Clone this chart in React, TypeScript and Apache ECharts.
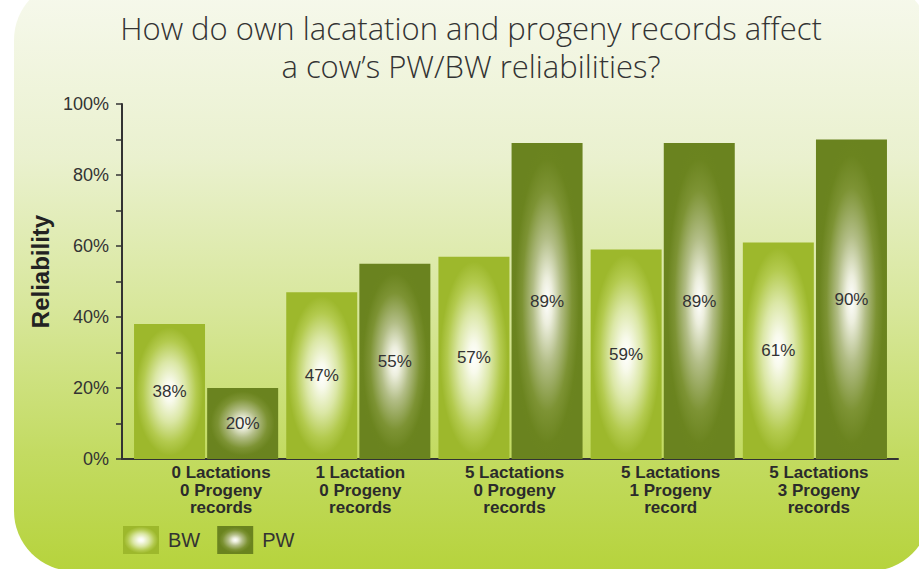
import React, { useEffect, useRef } from "react";
import * as echarts from "echarts";

const categories = [
  "0 Lactations\n0 Progeny\nrecords",
  "1 Lactation\n0 Progeny\nrecords",
  "5 Lactations\n0 Progeny\nrecords",
  "5 Lactations\n1 Progeny\nrecord",
  "5 Lactations\n3 Progeny\nrecords",
];
const bwValues = [38, 47, 57, 59, 61];
const pwValues = [20, 55, 89, 89, 90];
const seriesNames = ["BW", "PW"];
const titleText = "How do own lacatation and progeny records affect\na cow\u2019s PW/BW reliabilities?";
const yAxisName = "Reliability";
// horizontal nudge (px) of each category label
const labelNudge = [15, 2, 4, 8, 4];

const bwFill = {
  type: "radial", x: 0.5, y: 0.5, r: 0.5,
  colorStops: [
    { offset: 0, color: "#ffffff" },
    { offset: 0.15, color: "#f8faec" },
    { offset: 0.45, color: "#dbe7a6" },
    { offset: 0.75, color: "#b3ca4e" },
    { offset: 0.95, color: "#9db82c" },
    { offset: 1, color: "#9db82c" },
  ],
};
const pwFill = {
  type: "radial", x: 0.5, y: 0.5, r: 0.5,
  colorStops: [
    { offset: 0, color: "#ffffff" },
    { offset: 0.15, color: "#eceedd" },
    { offset: 0.4, color: "#b2bd86" },
    { offset: 0.7, color: "#7d9334" },
    { offset: 0.9, color: "#6b841f" },
    { offset: 1, color: "#6a831f" },
  ],
};

export default function App() {
  const ref = useRef<HTMLDivElement>(null);
  useEffect(() => {
    document.body.style.margin = "0";
    const chart = echarts.init(ref.current!, null, { renderer: "svg" });
    const font = "Liberation Sans, Arial, sans-serif";
    const labelStyle = {
      show: true,
      position: "inside",
      color: "#333",
      fontSize: 17,
      fontFamily: font,
      formatter: (p: any) => p.value + "%",
    };
    const rich: any = {};
    labelNudge.forEach((n, i) => {
      rich["c" + i] = {
        color: "#2b2b2b",
        fontWeight: "bold",
        fontSize: 17,
        lineHeight: 17.5,
        fontFamily: font,
        padding: [0, 0, 0, n * 2],
      };
    });
    chart.setOption({
      animation: false,
      backgroundColor: "#ffffff",
      graphic: [
        {
          type: "rect",
          z: -10,
          silent: true,
          shape: { x: 14, y: -20, width: 916, height: 591, r: 60 },
          style: {
            fill: new echarts.graphic.LinearGradient(0, 0, 0, 1, [
              { offset: 0, color: "#f7f9ee" },
              { offset: 0.3, color: "#eaf1cf" },
              { offset: 0.55, color: "#d8e79c" },
              { offset: 0.8, color: "#c3db62" },
              { offset: 1, color: "#b6d33c" },
            ]),
          },
        },
      ],
      title: {
        text: titleText,
        left: 471,
        textAlign: "center",
        top: 9,
        padding: 0,
        textStyle: {
          fontFamily: "Open Sans, sans-serif",
          fontWeight: 300,
          fontSize: 31,
          lineHeight: 38,
          color: "#333",
        },
      },
      legend: {
        left: 118,
        top: 521,
        itemWidth: 36,
        itemHeight: 28,
        itemGap: 17,
        icon: "rect",
        data: seriesNames,
        textStyle: {
          fontSize: 20,
          color: "#333",
          fontFamily: font,
          padding: [0, 0, 0, 4],
        },
      },
      grid: [
        { left: 130, right: 28, top: 104, bottom: 110 },
        { left: 122, right: 21, top: 104, bottom: 110 },
      ],
      xAxis: [
        {
          type: "category",
          data: categories,
          gridIndex: 0,
          axisLine: { show: false },
          axisTick: { show: false },
          axisLabel: {
            margin: 5,
            interval: 0,
            formatter: (v: string, i: number) =>
              v.split("\n").map((l) => `{c${i}|${l}}`).join("\n"),
            rich,
          },
        },
        {
          type: "value",
          gridIndex: 1,
          min: 0,
          max: 1,
          axisLine: { show: true, lineStyle: { color: "#333", width: 2 } },
          axisTick: { show: false },
          axisLabel: { show: false },
          splitLine: { show: false },
        },
      ],
      yAxis: [
        {
          type: "value",
          gridIndex: 0,
          min: 0,
          max: 100,
          interval: 20,
          offset: 8,
          name: yAxisName,
          nameLocation: "middle",
          nameGap: 63,
          nameTextStyle: {
            fontSize: 24,
            fontWeight: "bold",
            color: "#222",
            fontFamily: font,
            padding: [0, 0, 0, 20],
          },
          axisLine: { show: true, lineStyle: { color: "#333", width: 2 } },
          axisTick: { show: true, length: 6, lineStyle: { color: "#333", width: 1.5 } },
          minorTick: { show: true, splitNumber: 2, length: 6, lineStyle: { color: "#333", width: 1.5 } },
          axisLabel: {
            margin: 13,
            color: "#333",
            fontSize: 18,
            fontFamily: font,
            formatter: (v: number) => v + "%",
          },
          splitLine: { show: false },
        },
        { type: "value", gridIndex: 1, show: false, min: 0, max: 1 },
      ],
      series: [
        {
          name: seriesNames[0],
          type: "bar",
          xAxisIndex: 0,
          yAxisIndex: 0,
          data: bwValues,
          barWidth: 71,
          barGap: "3%",
          itemStyle: { color: bwFill },
          label: labelStyle,
        },
        {
          name: seriesNames[1],
          type: "bar",
          xAxisIndex: 0,
          yAxisIndex: 0,
          data: pwValues,
          barWidth: 71,
          barGap: "3%",
          itemStyle: { color: pwFill },
          label: labelStyle,
        },
      ],
    });
    return () => chart.dispose();
  }, []);
  return <div ref={ref} style={{ width: 919, height: 569 }} />;
}
